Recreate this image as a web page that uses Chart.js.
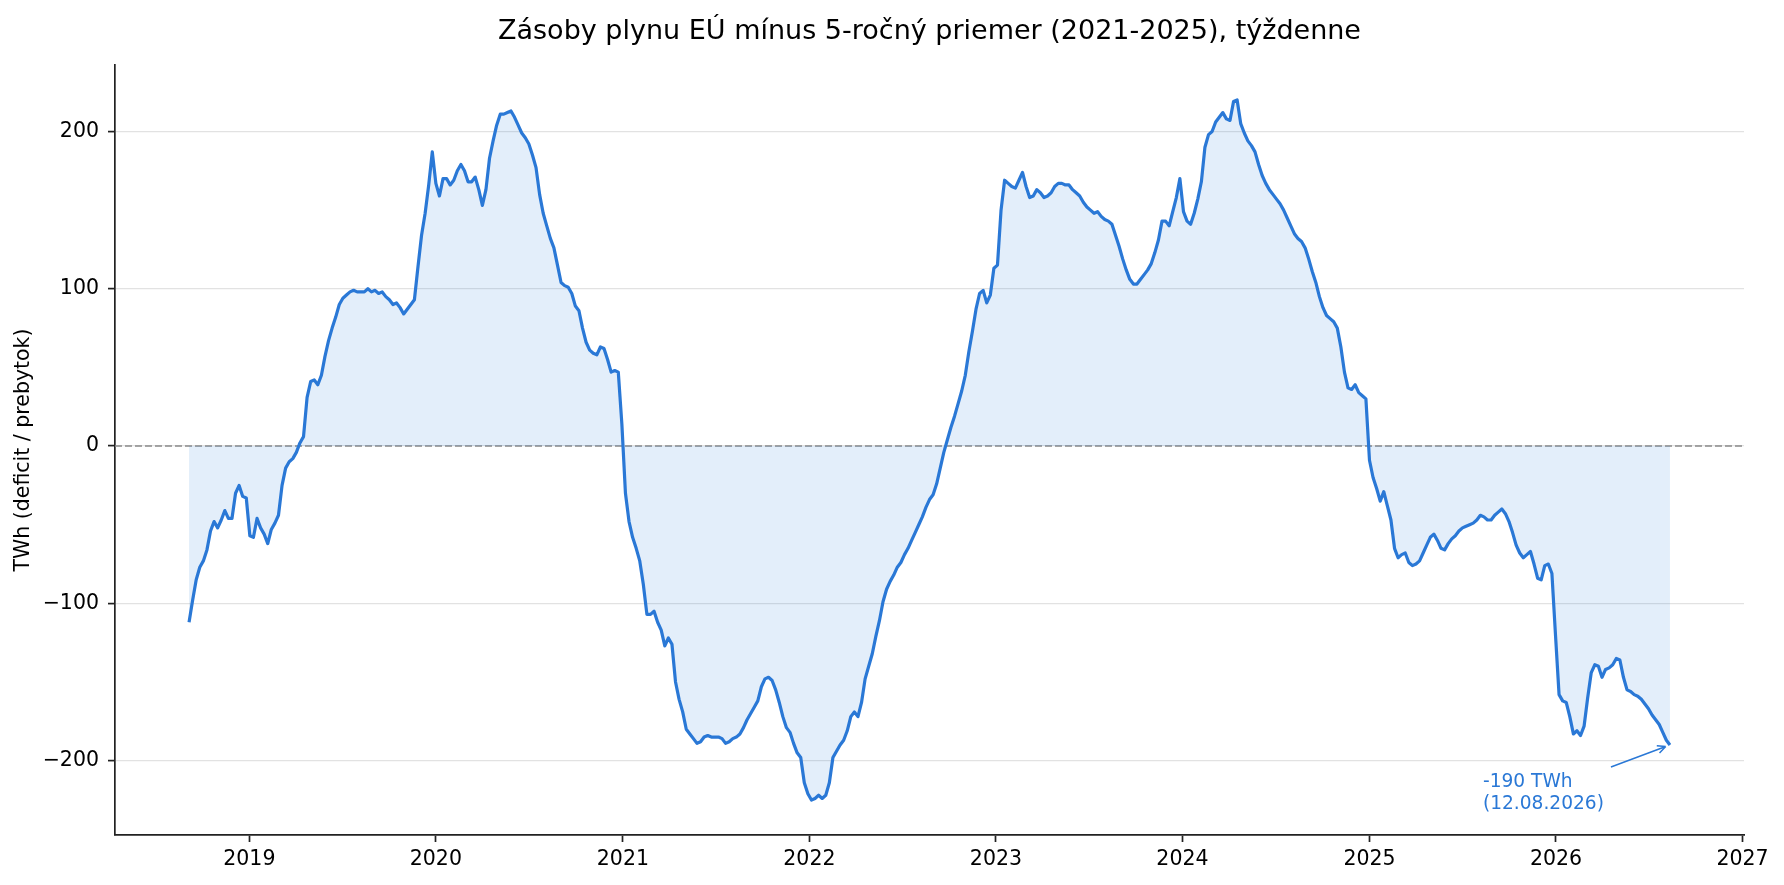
<!DOCTYPE html>
<html lang="sk">
<head>
<meta charset="utf-8">
<title>Zásoby plynu EÚ mínus 5-ročný priemer</title>
<script src="https://cdn.jsdelivr.net/npm/chart.js@4.4.1/dist/chart.umd.min.js"></script>
<style>
  html, body { margin: 0; padding: 0; background: #fff; }
  #wrap { width: 1784px; height: 885px; }
</style>
</head>
<body>
<div id="wrap"><canvas id="storageChart" width="1784" height="885"></canvas></div>
<script>
// Weekly series: first point 05.09.2018, last point 12.08.2026
const START_DATE = Date.UTC(2018, 8, 5);
const WEEK_MS = 7 * 24 * 3600 * 1000;

// EU storage minus 5-year average, TWh
const storageGap = [
    -112, -98, -85, -77, -73, -66, -54, -48, -52, -47, -41, -46, -46,
    -30, -25, -32, -33, -57, -58, -46, -52, -56, -62, -53, -49, -44,
    -25, -14, -10, -8, -4, 2, 6, 31, 41, 42, 39, 45, 57,
    67, 75, 82, 90, 94, 96, 98, 99, 98, 98, 98, 100, 98,
    99, 97, 98, 95, 93, 90, 91, 88, 84, 87, 90, 93, 114,
    134, 148, 166, 187, 167, 159, 170, 170, 166, 169, 175, 179, 175,
    168, 168, 171, 163, 153, 163, 183, 194, 204, 211, 211, 212, 213,
    209, 204, 199, 196, 192, 185, 177, 160, 148, 140, 132, 126, 115,
    104, 102, 101, 97, 89, 86, 75, 66, 61, 59, 58, 63, 62,
    55, 47, 48, 47, 14, -30, -48, -58, -65, -73, -88, -107, -107,
    -105, -112, -117, -127, -122, -126, -150, -161, -169, -180, -183, -186, -189,
    -188, -185, -184, -185, -185, -185, -186, -189, -188, -186, -185, -183, -179,
    -174, -170, -166, -162, -153, -148, -147, -149, -155, -163, -172, -179, -182,
    -189, -195, -198, -214, -221, -225, -224, -222, -224, -222, -214, -198, -194,
    -190, -187, -181, -172, -169, -172, -163, -148, -140, -132, -121, -111, -99,
    -91, -86, -82, -77, -74, -69, -65, -60, -55, -50, -45, -39, -34,
    -31, -24, -14, -4, 4, 12, 19, 27, 35, 45, 60, 73, 87,
    97, 99, 91, 96, 113, 115, 150, 169, 167, 165, 164, 169, 174,
    165, 158, 159, 163, 161, 158, 159, 161, 165, 167, 167, 166, 166,
    163, 161, 159, 155, 152, 150, 148, 149, 146, 144, 143, 141, 134,
    127, 119, 112, 106, 103, 103, 106, 109, 112, 116, 123, 131, 143,
    143, 140, 149, 158, 170, 149, 143, 141, 148, 157, 168, 190, 198,
    200, 206, 209, 212, 208, 207, 219, 220, 205, 199, 194, 191, 187,
    179, 172, 167, 163, 160, 157, 154, 150, 145, 140, 135, 132, 130,
    126, 119, 111, 104, 95, 88, 83, 81, 79, 75, 63, 47, 37,
    36, 39, 34, 32, 30, -9, -20, -27, -35, -29, -38, -47, -65,
    -71, -69, -68, -74, -76, -75, -73, -68, -63, -58, -56, -60, -65,
    -66, -62, -59, -57, -54, -52, -51, -50, -49, -47, -44, -45, -47,
    -47, -44, -42, -40, -43, -48, -55, -63, -68, -71, -69, -67, -75,
    -84, -85, -76, -75, -81, -120, -158, -162, -163, -172, -183, -181, -184,
    -178, -160, -144, -139, -140, -147, -142, -141, -139, -135, -136, -147, -155,
    -156, -158, -159, -161, -164, -167, -171, -174, -177, -182, -187, -190
];

const xTickYears = [2019, 2020, 2021, 2022, 2023, 2024, 2025, 2026, 2027];
const yTickValues = [-200, -100, 0, 100, 200];
const lastNote = ['-190 TWh', '(12.08.2026)'];

const LINE_COLOR = '#2a78d6';
const FILL_COLOR = 'rgba(42, 120, 214, 0.13)';

Chart.defaults.font.family = '"DejaVu Sans", sans-serif';

const points = storageGap.map((v, i) => ({ x: START_DATE + i * WEEK_MS, y: v }));
const xFirst = points[0].x;
const xLast = points[points.length - 1].x;
const xPad = (xLast - xFirst) * 0.05;
const yLow = Math.min(...storageGap);
const yHigh = Math.max(...storageGap);
const yPad = (yHigh - yLow) * 0.05;

// arrow + label pointing at the last weekly value
const lastPointNote = {
    id: 'lastPointNote',
    afterDatasetsDraw(chart) {
        const { ctx, scales } = chart;
        const last = points[points.length - 1];
        const px = scales.x.getPixelForValue(last.x);
        const py = scales.y.getPixelForValue(last.y);

        const tailX = px - 59, tailY = py + 22;
        const len = Math.hypot(px - tailX, py - tailY);
        const ux = (px - tailX) / len, uy = (py - tailY) / len;
        const tipX = px - ux * 4.5, tipY = py - uy * 4.5;
        const ang = Math.atan2(uy, ux);

        ctx.save();
        ctx.strokeStyle = LINE_COLOR;
        ctx.lineWidth = 1.5;
        ctx.beginPath();
        ctx.moveTo(tailX, tailY);
        ctx.lineTo(tipX, tipY);
        [-1, 1].forEach(side => {
            ctx.moveTo(tipX, tipY);
            ctx.lineTo(tipX - 9 * Math.cos(ang + side * 0.45), tipY - 9 * Math.sin(ang + side * 0.45));
        });
        ctx.stroke();

        ctx.fillStyle = LINE_COLOR;
        ctx.font = '18.6px "DejaVu Sans"';
        ctx.textAlign = 'left';
        ctx.textBaseline = 'alphabetic';
        ctx.fillText(lastNote[0], px - 187, py + 42);
        ctx.fillText(lastNote[1], px - 187, py + 64);
        ctx.restore();
    }
};

const storageChart = new Chart(document.getElementById('storageChart'), {
    type: 'line',
    data: {
        datasets: [{
            data: points,
            borderColor: LINE_COLOR,
            backgroundColor: FILL_COLOR,
            borderWidth: 3.2,
            borderJoinStyle: 'round',
            fill: 'origin',
            pointRadius: 0,
            tension: 0,
            order: 0
        }, {
            // zero reference line
            data: [{ x: xFirst - xPad, y: 0 }, { x: xLast + xPad, y: 0 }],
            borderColor: '#8a8a8a',
            borderWidth: 1.6,
            borderDash: [7, 3],
            pointRadius: 0,
            fill: false,
            order: 1
        }]
    },
    options: {
        responsive: false,
        animation: false,
        devicePixelRatio: 1,
        layout: { padding: { left: 0, right: 40, top: 0, bottom: 0 } },
        plugins: {
            legend: { display: false },
            tooltip: { enabled: false },
            title: {
                display: true,
                fullSize: false,
                text: 'Zásoby plynu EÚ mínus 5-ročný priemer (2021-2025), týždenne',
                color: '#000',
                font: { size: 27, weight: 'normal', lineHeight: 1.2 },
                padding: { top: 16, bottom: 16.6 }
            }
        },
        scales: {
            x: {
                type: 'linear',
                min: xFirst - xPad,
                max: xLast + xPad,
                afterBuildTicks: scale => {
                    scale.ticks = xTickYears.map(y => ({ value: Date.UTC(y, 0, 1) }));
                },
                afterFit: scale => {
                    scale.height = 50;
                    scale.paddingLeft = 0;
                    scale.paddingRight = 0;
                },
                ticks: {
                    autoSkip: false,
                    maxRotation: 0,
                    padding: 5,
                    color: '#000',
                    font: { size: 20.5 },
                    callback: value => String(new Date(value).getUTCFullYear())
                },
                grid: {
                    display: true,
                    drawOnChartArea: false,
                    drawTicks: true,
                    tickLength: 7,
                    tickColor: '#222',
                    tickWidth: 1.7
                },
                border: { display: true, color: '#222', width: 1.7 }
            },
            y: {
                min: yLow - yPad,
                max: yHigh + yPad,
                afterBuildTicks: scale => {
                    scale.ticks = yTickValues.map(v => ({ value: v }));
                },
                afterFit: scale => {
                    scale.width = 115;
                    scale.paddingTop = 0;
                    scale.paddingBottom = 0;
                },
                ticks: {
                    padding: 9,
                    color: '#000',
                    font: { size: 20.5 },
                    callback: value => value < 0 ? '\u2212' + Math.abs(value) : String(value)
                },
                grid: {
                    color: '#e2e2e2',
                    lineWidth: 1.2,
                    tickLength: 7,
                    tickColor: '#222',
                    tickWidth: 1.7
                },
                border: { display: true, color: '#222', width: 1.7 },
                title: {
                    display: true,
                    text: 'TWh (deficit / prebytok)',
                    color: '#000',
                    font: { size: 20.5 },
                    padding: { top: 11, bottom: 0 }
                }
            }
        }
    },
    plugins: [lastPointNote]
});
</script>
</body>
</html>
